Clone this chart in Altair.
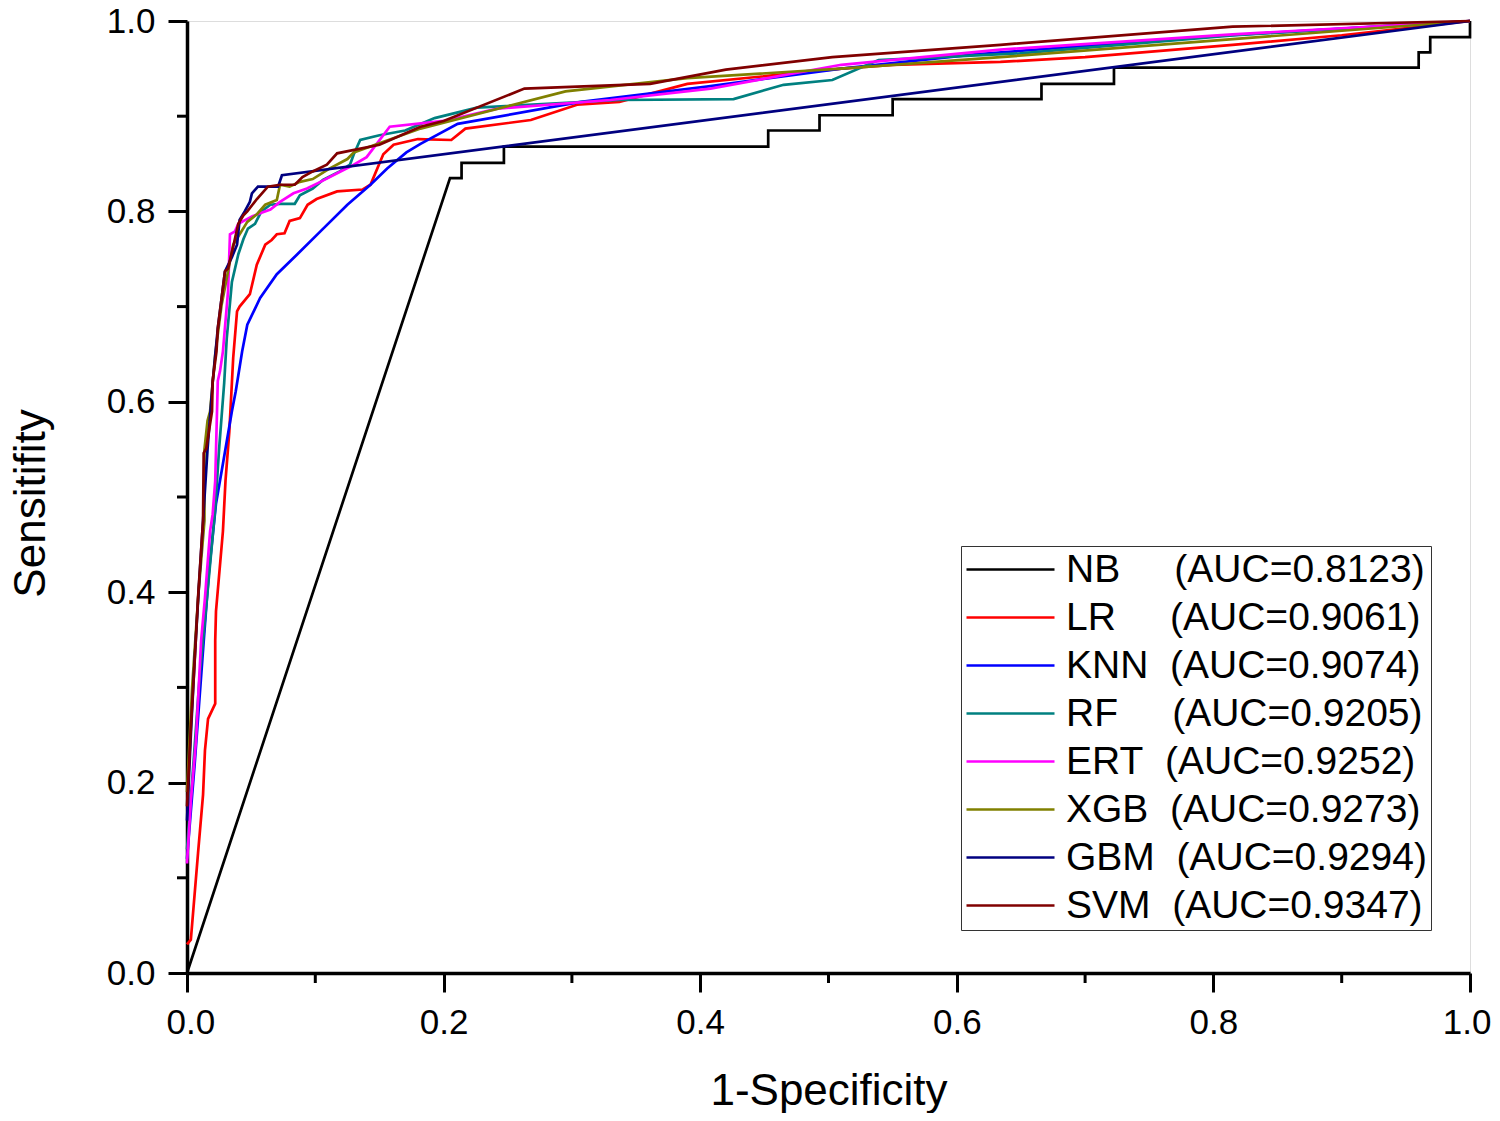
import altair as alt
import pandas as pd

FONT = "Liberation Sans"

models = ["NB", "LR", "KNN", "RF", "ERT", "XGB", "GBM", "SVM"]
aucs = ["0.8123", "0.9061", "0.9074", "0.9205", "0.9252", "0.9273", "0.9294", "0.9347"]
colors = ["#000000", "#FF0000", "#0000FF", "#008080", "#FF00FF", "#808000", "#000080", "#800000"]
gaps = [5, 5, 2, 5, 2, 2, 2, 2]

major_ticks = [0.0, 0.2, 0.4, 0.6, 0.8, 1.0]
minor_ticks = [0.1, 0.3, 0.5, 0.7, 0.9]

nb_x = [0, 0.205, 0.214, 0.214, 0.247, 0.247, 0.453, 0.453, 0.493, 0.493, 0.55, 0.55,
        0.666, 0.666, 0.7225, 0.7225, 0.96, 0.96, 0.969, 0.969, 1.0, 1.0]
nb_y = [0, 0.835, 0.835, 0.851, 0.851, 0.868, 0.868, 0.885, 0.885, 0.901, 0.901, 0.918,
        0.918, 0.934, 0.934, 0.951, 0.951, 0.967, 0.967, 0.983, 0.983, 1.0]

lr_x = [0, 0.003, 0.0086, 0.0125, 0.014, 0.0164, 0.022, 0.022, 0.0226, 0.028, 0.030, 0.033,
        0.035, 0.036, 0.039, 0.041, 0.049, 0.0544, 0.061, 0.066, 0.070, 0.076, 0.080, 0.088,
        0.094, 0.101, 0.117, 0.137, 0.143, 0.153, 0.161, 0.18, 0.206, 0.217, 0.268, 0.304,
        0.337, 0.39, 0.51, 0.55, 0.634, 0.7, 0.815, 0.9, 1.0]
lr_y = [0.03, 0.035, 0.126, 0.187, 0.234, 0.267, 0.283, 0.349, 0.38, 0.464, 0.517, 0.569,
        0.62, 0.646, 0.695, 0.700, 0.713, 0.744, 0.765, 0.770, 0.776, 0.777, 0.79, 0.793,
        0.807, 0.813, 0.821, 0.823, 0.828, 0.86, 0.870, 0.876, 0.875, 0.887, 0.896, 0.912,
        0.915, 0.934, 0.950, 0.954, 0.957, 0.962, 0.975, 0.985, 1.0]

knn_x = [0, 0.006, 0.012, 0.017, 0.0226, 0.028, 0.035, 0.038, 0.043, 0.047, 0.057, 0.070,
         0.086, 0.104, 0.125, 0.143, 0.156, 0.171, 0.182, 0.211, 0.307, 0.405, 0.51, 0.614,
         0.8, 1.0]
knn_y = [0.12, 0.22, 0.33, 0.42, 0.493, 0.535, 0.59, 0.611, 0.653, 0.681, 0.709, 0.734,
         0.755, 0.779, 0.807, 0.828, 0.845, 0.862, 0.871, 0.892, 0.915, 0.931, 0.95, 0.965,
         0.984, 1.0]

rf_x = [0, 0.005, 0.010, 0.016, 0.022, 0.025, 0.029, 0.031, 0.035, 0.040, 0.044, 0.0475,
        0.053, 0.058, 0.065, 0.0725, 0.084, 0.088, 0.098, 0.106, 0.119, 0.127, 0.13, 0.135,
        0.15, 0.17, 0.193, 0.226, 0.337, 0.426, 0.465, 0.503, 0.539, 0.649, 0.815, 1.0]
rf_y = [0.13, 0.22, 0.314, 0.40, 0.488, 0.55, 0.62, 0.667, 0.726, 0.755, 0.771, 0.782,
        0.787, 0.80, 0.807, 0.808, 0.808, 0.817, 0.824, 0.833, 0.842, 0.849, 0.86, 0.875,
        0.88, 0.885, 0.898, 0.909, 0.917, 0.918, 0.933, 0.938, 0.959, 0.966, 0.985, 1.0]

ert_x = [0, 0.003, 0.007, 0.011, 0.014, 0.018, 0.020, 0.022, 0.024, 0.0257, 0.028, 0.032,
         0.0335, 0.0374, 0.040, 0.051, 0.057, 0.065, 0.0725, 0.083, 0.0935, 0.104, 0.117,
         0.13, 0.14, 0.158, 0.2, 0.242, 0.33, 0.408, 0.51, 0.634, 0.815, 1.0]
ert_y = [0.115, 0.181, 0.244, 0.349, 0.394, 0.464, 0.482, 0.517, 0.622, 0.632, 0.653, 0.716,
         0.776, 0.779, 0.787, 0.795, 0.798, 0.802, 0.81, 0.819, 0.824, 0.831, 0.840,
         0.849, 0.857, 0.889, 0.895, 0.908, 0.917, 0.929, 0.954, 0.970, 0.986, 1.0]

xgb_x = [0, 0.004, 0.009, 0.0136, 0.0136, 0.016, 0.018, 0.022, 0.027, 0.036, 0.047, 0.0545,
         0.061, 0.070, 0.0725, 0.080, 0.088, 0.098, 0.111, 0.125, 0.130, 0.182, 0.295, 0.39,
         0.51, 0.634, 0.815, 1.0]
xgb_y = [0.19, 0.30, 0.40, 0.475, 0.55, 0.58, 0.59, 0.65, 0.702, 0.765, 0.789, 0.797,
         0.807, 0.812, 0.828, 0.826, 0.831, 0.834, 0.845, 0.855, 0.862, 0.887, 0.926, 0.940,
         0.95, 0.962, 0.981, 1.0]

gbm_x = [0, 0.003, 0.006, 0.009, 0.0125, 0.016, 0.02, 0.024, 0.0296, 0.035, 0.039, 0.041,
         0.045, 0.049, 0.0506, 0.0553, 0.071, 0.074, 1.0]
gbm_y = [0.16, 0.25, 0.33, 0.40, 0.475, 0.55, 0.62, 0.677, 0.737, 0.752, 0.765, 0.791,
         0.80, 0.81, 0.819, 0.826, 0.826, 0.838, 1.0]

svm_x = [0, 0.003, 0.006, 0.0086, 0.0125, 0.013, 0.015, 0.0195, 0.020, 0.023, 0.024, 0.0296,
         0.032, 0.036, 0.040, 0.044, 0.047, 0.051, 0.0545, 0.063, 0.0725, 0.084, 0.090, 0.098,
         0.109, 0.117, 0.15, 0.182, 0.2, 0.263, 0.361, 0.42, 0.503, 0.634, 0.815, 1.0]
svm_y = [0.175, 0.258, 0.328, 0.394, 0.475, 0.546, 0.551, 0.59, 0.622, 0.653, 0.677, 0.737,
         0.740, 0.763, 0.787, 0.796, 0.80, 0.807, 0.813, 0.826, 0.828, 0.828, 0.836, 0.842,
         0.849, 0.861, 0.87, 0.889, 0.895, 0.929, 0.934, 0.949, 0.962, 0.975, 0.994, 1.0]

series_x = [nb_x, lr_x, knn_x, rf_x, ert_x, xgb_x, gbm_x, svm_x]
series_y = [nb_y, lr_y, knn_y, rf_y, ert_y, xgb_y, gbm_y, svm_y]

labels = [m + "\u00a0" * g + "(AUC=" + a + ")" for m, g, a in zip(models, gaps, aucs)]

rows = []
for k, (lab, xs, ys) in enumerate(zip(labels, series_x, series_y)):
    for i, (xv, yv) in enumerate(zip(xs, ys)):
        rows.append({"label": lab, "k": k, "i": i, "x": xv, "y": yv})
df = pd.DataFrame(rows)

W, H = 1283, 952

xscale = alt.Scale(domain=[0, 1], nice=False, zero=False)
yscale = alt.Scale(domain=[0, 1], nice=False, zero=False)

x_axis = alt.Axis(values=major_ticks, format=".1f", tickSize=19, tickWidth=3, tickColor="black",
                  domainWidth=3.5, domainColor="black", labelPadding=13, labelFontSize=35,
                  labelFont=FONT, labelColor="black", labelFlush=True, labelFlushOffset=21,
                  grid=False,
                  title="1-Specificity", titleFont=FONT, titleFontSize=44, titleFontWeight="normal",
                  titleColor="black", titleX=W / 2, titleY=131, titleBaseline="alphabetic",
                  titleAlign="center")
y_axis = alt.Axis(values=major_ticks, format=".1f", tickSize=19, tickWidth=3, tickColor="black",
                  domainWidth=3.5, domainColor="black", labelPadding=13, labelFontSize=35,
                  labelFont=FONT, labelColor="black", labelFlush=False, grid=False,
                  title="Sensitifity", titleFont=FONT, titleFontSize=44, titleFontWeight="normal",
                  titleColor="black", titleAngle=270, titleX=-143, titleY=H / 2 + 6,
                  titleBaseline="alphabetic", titleAlign="center")

lines = alt.Chart(df).mark_line(strokeWidth=2.7).encode(
    x=alt.X("x:Q", scale=xscale, axis=x_axis),
    y=alt.Y("y:Q", scale=yscale, axis=y_axis),
    color=alt.Color("label:N", scale=alt.Scale(domain=labels, range=colors),
                    legend=alt.Legend(title=None, orient="none", legendX=774, legendY=525,
                                      symbolType="stroke", symbolSize=7744, symbolStrokeWidth=2.6,
                                      clipHeight=39, rowPadding=8, labelOffset=10,
                                      labelFontSize=39, labelFont=FONT, labelColor="black",
                                      labelLimit=700, padding=4, strokeColor="#333333",
                                      fillColor="white", direction="vertical")),
    detail="k:N",
    order=alt.Order("i:Q"),
)

minor_df = pd.DataFrame({"t": minor_ticks})
minor_x = alt.Chart(minor_df).mark_rule(color="black", strokeWidth=3).encode(
    x=alt.X("t:Q", scale=xscale), y=alt.value(H), y2=alt.value(H + 10))
minor_y = alt.Chart(minor_df).mark_rule(color="black", strokeWidth=3).encode(
    y=alt.Y("t:Q", scale=yscale), x=alt.value(0), x2=alt.value(-10))

chart = alt.layer(lines, minor_x, minor_y).properties(
    width=W, height=H,
    padding={"left": 179, "top": 13, "right": 22, "bottom": 140},
    autosize=alt.AutoSizeParams(type="none"),
).configure_view(stroke="black", strokeWidth=3.5).configure(background="white")

chart.save("out.html", embed_options={"renderer": "svg", "actions": False})
